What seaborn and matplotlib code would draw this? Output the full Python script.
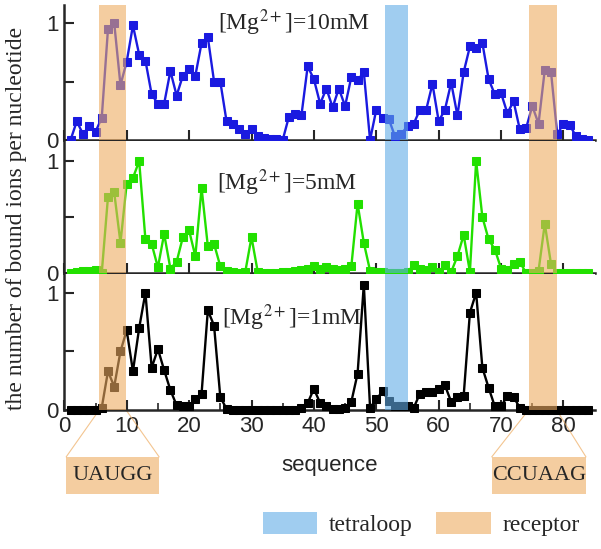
import numpy as np
import matplotlib
matplotlib.use("Agg")
import matplotlib.pyplot as plt
import seaborn as sns
from matplotlib.patches import Patch, Rectangle

# sequence positions
seq = list(range(1, 85))

# bound ions per nucleotide
mg10 = [0.0, 0.16, 0.05, 0.12, 0.07, 0.19, 0.95, 1.0, 0.47, 0.67,
        0.98, 0.73, 0.68, 0.39, 0.31, 0.31, 0.59, 0.38, 0.55, 0.61,
        0.55, 0.83, 0.88, 0.50, 0.50, 0.16, 0.14, 0.09, 0.05, 0.09,
        0.03, 0.02, 0.01, 0.01, 0.0, 0.20, 0.22, 0.21, 0.63, 0.52,
        0.31, 0.44, 0.28, 0.44, 0.29, 0.54, 0.51, 0.58, 0.0, 0.26,
        0.19, 0.18, 0.03, 0.05, 0.12, 0.14, 0.26, 0.26, 0.48, 0.16,
        0.26, 0.49, 0.21, 0.58, 0.80, 0.79, 0.83, 0.52, 0.39, 0.40,
        0.23, 0.33, 0.09, 0.10, 0.29, 0.14, 0.60, 0.58, 0.05, 0.14,
        0.13, 0.03, 0.01, 0.0]
mg5 = [0.0, 0.01, 0.02, 0.02, 0.03, 0.0, 0.68, 0.72, 0.27, 0.80,
       0.85, 1.0, 0.30, 0.26, 0.05, 0.35, 0.04, 0.10, 0.32, 0.38,
       0.15, 0.76, 0.24, 0.26, 0.06, 0.02, 0.01, 0.0, 0.01, 0.32,
       0.01, 0.0, 0.0, 0.0, 0.01, 0.01, 0.02, 0.03, 0.04, 0.06,
       0.04, 0.05, 0.04, 0.03, 0.04, 0.06, 0.62, 0.27, 0.02, 0.01,
       0.01, 0.0, 0.0, 0.0, 0.01, 0.07, 0.04, 0.03, 0.05, 0.01,
       0.07, 0.01, 0.15, 0.34, 0.01, 1.0, 0.50, 0.30, 0.21, 0.04,
       0.03, 0.08, 0.10, 0.0, 0.0, 0.02, 0.44, 0.08, 0.0, 0.0,
       0.0, 0.0, 0.0, 0.0]
mg1 = [0.0, 0.0, 0.0, 0.0, 0.0, 0.02, 0.33, 0.20, 0.50, 0.68,
       0.33, 0.70, 1.0, 0.36, 0.52, 0.34, 0.17, 0.04, 0.03, 0.03,
       0.09, 0.14, 0.85, 0.72, 0.11, 0.01, 0.0, 0.0, 0.0, 0.0,
       0.0, 0.0, 0.0, 0.0, 0.0, 0.0, 0.0, 0.02, 0.06, 0.18,
       0.06, 0.03, 0.01, 0.01, 0.02, 0.07, 0.31, 1.07, 0.02, 0.09,
       0.16, 0.08, 0.03, 0.03, 0.03, 0.02, 0.14, 0.15, 0.15, 0.18,
       0.21, 0.07, 0.11, 0.12, 0.83, 1.0, 0.36, 0.19, 0.03, 0.03,
       0.12, 0.11, 0.02, 0.0, 0.0, 0.0, 0.0, 0.0, 0.0, 0.0,
       0.0, 0.0, 0.0, 0.0]

labels = ["[Mg$^{2+}$]=10mM", "[Mg$^{2+}$]=5mM", "[Mg$^{2+}$]=1mM"]
colors = ["#1a1ae0", "#22e000", "#000000"]

receptor_spans = [(5.6, 9.9), (74.4, 78.9)]
tetraloop_span = (51.4, 55.1)
receptor_names = ["UAUGG", "CCUAAG"]

orange = "#eeac61"
blue = "#61ace6"
span_alpha = 0.6

sns.set_style("ticks")
plt.rcParams['font.family'] = ['Liberation Sans', 'DejaVu Sans']
plt.rcParams['mathtext.fontset'] = 'stix'
serif = ['Liberation Serif', 'DejaVu Serif']

fig = plt.figure(figsize=(6.01, 5.49), dpi=100)

W, H = 601, 549
left = 64.3 / W
width = 85 * 6.24 / W
# (top px, bottom px, ylim top)
rows = [(5, 140, 1.155), (141, 273, 1.18), (274, 410, 1.16)]
series = [mg10, mg5, mg1]
label_pos = [(24.6, 1.0), (24.5, 0.81), (25.2, 0.79)]

axes = []
for i, (top, bot, ytop) in enumerate(rows):
    ax = fig.add_axes([left, (H - bot) / H, width, (bot - top) / H])
    sns.lineplot(x=seq, y=series[i], ax=ax, color=colors[i], marker='s',
                 markersize=5.5, markeredgecolor=colors[i], linewidth=1.7,
                 clip_on=False, zorder=3)
    for a, b in receptor_spans:
        ax.axvspan(a, b, color=orange, alpha=span_alpha, lw=0, zorder=4)
    ax.axvspan(*tetraloop_span, color=blue, alpha=span_alpha, lw=0, zorder=4)
    ax.set_xlim(0, 85)
    ax.set_ylim(0, ytop)
    ax.set_yticks([0, 0.5, 1])
    ax.set_yticklabels(["0", "", "1"])
    ax.set_xticks(range(0, 81, 10))
    ax.tick_params(direction='in', length=7, width=1.5, labelsize=16, pad=4)
    for s in ['top', 'right']:
        ax.spines[s].set_visible(False)
    for s in ['left', 'bottom']:
        ax.spines[s].set_linewidth(1.8)
    ax.set_xlabel("")
    ax.set_ylabel("")
    tx, ty = label_pos[i]
    ax.text(tx, ty, labels[i], family=serif, fontsize=17, va='center', ha='left')
    if i < 2:
        ax.set_xticklabels([])
    axes.append(ax)

ax3 = axes[2]
ax3.set_xticks(range(5, 85, 5), minor=True)
ax3.tick_params(which='minor', direction='in', length=5, width=1.2)
ax3.set_xlabel("sequence", fontsize=16)
ax3.xaxis.set_label_coords(0.5, -0.33)

# receptor sequence boxes below the axis
boxes = [(0.3, 15.2), (68.5, 83.6)]
box_top, box_bot = -0.40, -0.72
for (a, b), (x0, x1), name in zip(receptor_spans, boxes, receptor_names):
    ax3.add_patch(Rectangle((x0, box_bot), x1 - x0, box_top - box_bot,
                            facecolor=orange, alpha=span_alpha, lw=0, clip_on=False))
    ax3.plot([x0, a], [box_top, 0], color=orange, alpha=0.7, lw=0.8, clip_on=False)
    ax3.plot([x1, b], [box_top, 0], color=orange, alpha=0.7, lw=0.8, clip_on=False)
    ax3.text((x0 + x1) / 2, (box_top + box_bot) / 2, name, family=serif,
             fontsize=16, ha='center', va='center')

fig.text(17 / W, 1 - 218 / H, "the number of bound ions per nucleotide",
         family=serif, fontsize=17, rotation=90, ha='center', va='center')

handles = [Patch(facecolor=blue, alpha=span_alpha, lw=0),
           Patch(facecolor=orange, alpha=span_alpha, lw=0)]
fig.legend(handles, ["tetraloop", "receptor"], loc='lower right',
           bbox_to_anchor=(1.0, -0.015), ncol=2, frameon=False,
           prop={'family': serif, 'size': 17}, handlelength=2.3,
           handleheight=1.1, columnspacing=1.0, handletextpad=0.5)

fig.savefig("out.png", dpi=100)
